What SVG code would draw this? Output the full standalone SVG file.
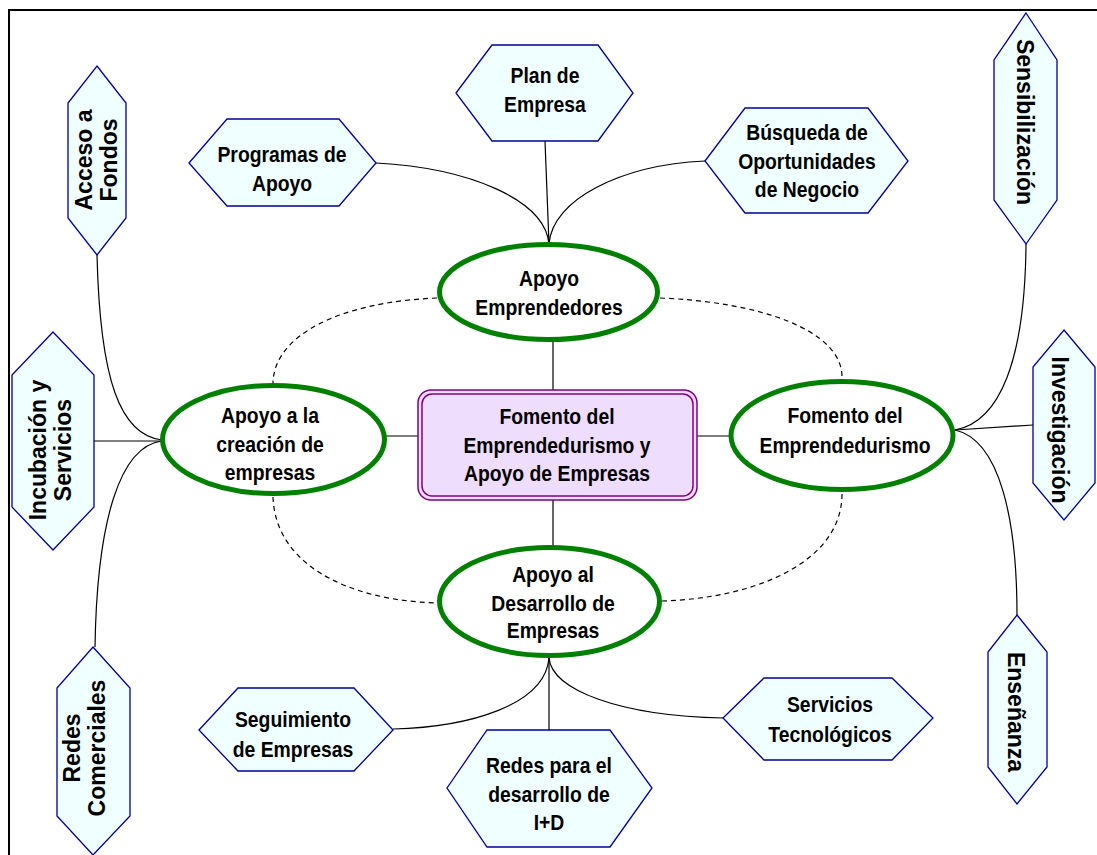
<svg xmlns="http://www.w3.org/2000/svg" width="1097" height="855" viewBox="0 0 1097 855">
<style>
.hex{fill:#F0FFFF;stroke:#000099;stroke-width:1.3}
.ell{fill:#FFFFFF;stroke:#008000;stroke-width:5}
.t{font-family:"Liberation Sans",Arial,sans-serif;font-weight:bold;font-size:22px;fill:#000;text-anchor:middle}
.v{font-family:"Liberation Sans",Arial,sans-serif;font-weight:bold;font-size:23px;fill:#000;text-anchor:middle}
.c{fill:none;stroke:#000;stroke-width:1.2}
.d{fill:none;stroke:#000;stroke-width:1.2;stroke-dasharray:5 4}
</style>
<rect x="0" y="0" width="1097" height="855" fill="#FFFFFF"/>
<path d="M9 855 V10 H1097" fill="none" stroke="#000" stroke-width="2"/>

<g id="dashed">
<path class="d" d="M437 298 C 340 302 274 335 273 383"/>
<path class="d" d="M273 497 C 275 560 340 600 437 603"/>
<path class="d" d="M660 298 C 760 302 842 330 842 377"/>
<path class="d" d="M842 494 C 842 560 760 598 662 601"/>
</g>

<g id="connectors">
<path class="c" d="M545 141 L549 244"/>
<path class="c" d="M376 163 C 470 168 545 200 549 244"/>
<path class="c" d="M705 161 C 620 165 552 200 549 244"/>
<path class="c" d="M553 390 V340"/>
<path class="c" d="M553 500 V547"/>
<path class="c" d="M418 436 H385"/>
<path class="c" d="M697 436 H731"/>
<path class="c" d="M97 255 C 100 380 120 435 162 440"/>
<path class="c" d="M94 441 H162"/>
<path class="c" d="M162 441 C 120 446 97 520 95 647"/>
<path class="c" d="M1026 244 C 1025 360 1000 422 955 430"/>
<path class="c" d="M955 430 L1033 425"/>
<path class="c" d="M955 430 C 1000 440 1017 520 1017 615"/>
<path class="c" d="M549 658 C 545 705 470 727 393 729"/>
<path class="c" d="M549 658 V730"/>
<path class="c" d="M549 658 C 552 690 620 716 723 718"/>
</g>

<g id="center">
<rect x="418" y="390" width="279" height="110" rx="13" ry="13" fill="#EEDDFD" stroke="#800080" stroke-width="1.5"/>
<rect x="422" y="394" width="271" height="102" rx="10" ry="10" fill="none" stroke="#800080" stroke-width="1.5"/>
<g transform="translate(557 0) scale(0.88 1)"><text class="t"><tspan x="0" y="424">Fomento del</tspan><tspan x="0" y="453">Emprendedurismo y</tspan><tspan x="0" y="481">Apoyo de Empresas</tspan></text></g>
</g>

<g id="apoyo-emprendedores">
<ellipse class="ell" cx="548.5" cy="292" rx="109" ry="47.5"/>
<g transform="translate(549 0) scale(0.88 1)"><text class="t"><tspan x="0" y="286">Apoyo</tspan><tspan x="0" y="315">Emprendedores</tspan></text></g>
</g>

<g id="apoyo-creacion">
<ellipse class="ell" cx="273.5" cy="439.5" rx="111" ry="54"/>
<g transform="translate(270 0) scale(0.88 1)"><text class="t"><tspan x="0" y="423">Apoyo a la</tspan><tspan x="0" y="452">creación de</tspan><tspan x="0" y="480">empresas</tspan></text></g>
</g>

<g id="fomento-emprendedurismo">
<ellipse class="ell" cx="842" cy="435.5" rx="111" ry="54"/>
<g transform="translate(845 0) scale(0.88 1)"><text class="t"><tspan x="0" y="423">Fomento del</tspan><tspan x="0" y="453">Emprendedurismo</tspan></text></g>
</g>

<g id="apoyo-desarrollo">
<ellipse class="ell" cx="549.5" cy="601.5" rx="110" ry="54"/>
<g transform="translate(553 0) scale(0.88 1)"><text class="t"><tspan x="0" y="582">Apoyo al</tspan><tspan x="0" y="611">Desarrollo de</tspan><tspan x="0" y="638">Empresas</tspan></text></g>
</g>

<g id="acceso-fondos">
<polygon class="hex" points="97,66 126,103 126,218 97,255 68,218 68,103"/>
<text class="v" transform="translate(92 160) rotate(-90)" x="0" y="0">Acceso a</text>
<text class="v" transform="translate(117 160) rotate(-90)" x="0" y="0">Fondos</text>
</g>

<g id="programas-apoyo">
<polygon class="hex" points="189,163 227,119 339,119 376,163 339,206 227,206"/>
<g transform="translate(282 0) scale(0.88 1)"><text class="t"><tspan x="0" y="162">Programas de</tspan><tspan x="0" y="191">Apoyo</tspan></text></g>
</g>

<g id="plan-empresa">
<polygon class="hex" points="456,93 492,45 598,45 633,93 598,141 492,141"/>
<g transform="translate(545 0) scale(0.88 1)"><text class="t"><tspan x="0" y="83">Plan de</tspan><tspan x="0" y="112">Empresa</tspan></text></g>
</g>

<g id="busqueda">
<polygon class="hex" points="705,161 745,108 868,108 908,161 868,213 745,213"/>
<g transform="translate(807 0) scale(0.88 1)"><text class="t"><tspan x="0" y="140">Búsqueda de</tspan><tspan x="0" y="169">Oportunidades</tspan><tspan x="0" y="197">de Negocio</tspan></text></g>
</g>

<g id="sensibilizacion">
<polygon class="hex" points="1026,13 1057,60 1057,200 1026,244 994,200 994,60"/>
<text class="v" transform="translate(1017 122) rotate(90)" x="0" y="0">Sensibilización</text>
</g>

<g id="incubacion">
<polygon class="hex" points="53,332 94,375 94,507 53,550 12,507 12,375"/>
<text class="v" transform="translate(46 450) rotate(-90)" x="0" y="0">Incubación  y</text>
<text class="v" transform="translate(71 450) rotate(-90)" x="0" y="0">Servicios</text>
</g>

<g id="investigacion">
<polygon class="hex" points="1064,330 1095,367 1095,483 1064,520 1033,483 1033,367"/>
<text class="v" transform="translate(1052 430) rotate(90)" x="0" y="0">Investigación</text>
</g>

<g id="redes-comerciales">
<polygon class="hex" points="93,647 130,688 130,816 93,855 57,816 57,688"/>
<text class="v" transform="translate(80 748) rotate(-90)" x="0" y="0">Redes</text>
<text class="v" transform="translate(105 748) rotate(-90)" x="0" y="0">Comerciales</text>
</g>

<g id="seguimiento">
<polygon class="hex" points="199,730 238,688 354,688 393,730 354,771 238,771"/>
<g transform="translate(293 0) scale(0.88 1)"><text class="t"><tspan x="0" y="727">Seguimiento</tspan><tspan x="0" y="757">de Empresas</tspan></text></g>
</g>

<g id="redes-id">
<polygon class="hex" points="447,788 487,730 610,730 652,788 610,847 487,847"/>
<g transform="translate(549 0) scale(0.88 1)"><text class="t"><tspan x="0" y="773">Redes para el</tspan><tspan x="0" y="802">desarrollo de</tspan><tspan x="0" y="830">I+D</tspan></text></g>
</g>

<g id="servicios">
<polygon class="hex" points="723,718 764,678 892,678 933,718 892,760 764,760"/>
<g transform="translate(830 0) scale(0.88 1)"><text class="t"><tspan x="0" y="712">Servicios</tspan><tspan x="0" y="742">Tecnológicos</tspan></text></g>
</g>

<g id="ensenanza">
<polygon class="hex" points="1017,615 1047,652 1047,767 1017,804 988,767 988,652"/>
<text class="v" transform="translate(1008 712) rotate(90)" x="0" y="0">Enseñanza</text>
</g>
</svg>
